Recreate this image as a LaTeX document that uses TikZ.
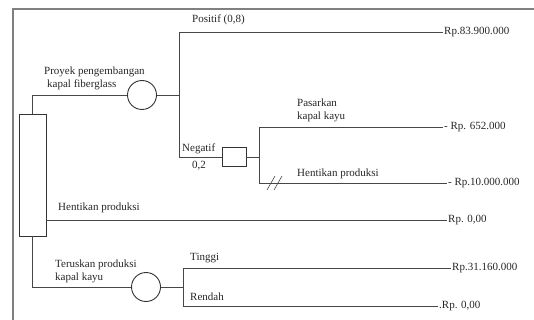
\documentclass[tikz,border=0pt]{standalone}
\usepackage{fontspec}
\setmainfont{Liberation Serif}
\usetikzlibrary{calc}
\tikzset{
	tree/.style={line width=0.9pt, color=black!72},
	chance/.style={draw, circle, minimum size=29pt, inner sep=0pt, line width=0.9pt, color=black!80},
	decision/.style={draw, rectangle, inner sep=0pt, line width=0.9pt, color=black!80},
	payoff/.style={anchor=west, inner sep=1pt, text=black!85, font=\fontsize{11}{13}\selectfont},
	lbl/.style={anchor=west, inner sep=0pt, align=left, text=black!85, font=\fontsize{11}{13}\selectfont}
}

\begin{document}
\begin{tikzpicture}[x=1pt, y=-1pt]
			%%%%% START %%%%%
			\useasboundingbox (0, 0) rectangle (534, 320);
			
			\draw[line width=1.2pt, color=black!50] (534, 9) -- (13, 9) -- (13, 320);
			
			\node[decision, minimum width=27pt, minimum height=122pt] (root) at (32.5, 175) {};
			
			\node[chance] (proyek) at (142, 95) {};
			\node[chance] (teruskan) at (146, 287) {};
			\node[decision, minimum width=24pt, minimum height=19pt] (pilih) at (234, 157) {};
			
			\coordinate (pasar) at (179, 95);
			\coordinate (jual) at (259, 157);
			\coordinate (harga) at (183, 287);
			
			\node[payoff] (positif) at (443, 32) {Rp.83.900.000};
			\node[payoff] (pasarkan) at (443, 127) {- Rp. 652.000};
			\node[payoff] (henti1) at (447, 183) {- Rp.10.000.000};
			\node[payoff] (henti2) at (447, 220) {Rp. 0,00};
			\node[payoff] (tinggi) at (451, 268) {Rp.31.160.000};
			\node[payoff] (rendah) at (438, 306) {.Rp. 0,00};
			
			\draw[tree] (root.north) |- (proyek.west);
			\draw[tree] (proyek.east) -- (pasar);
			\draw[tree] (pasar) |- (positif.west);
			\draw[tree] (pasar) |- (pilih.west);
			\draw[tree] (pilih.east) -- (jual);
			\draw[tree] (jual) |- (pasarkan.west);
			\draw[tree] (jual) |- (henti1.west);
			\draw[tree] (root.east |- henti2.west) -- (henti2.west);
			\draw[tree] (root.south) |- (teruskan.west);
			\draw[tree] (teruskan.east) -- (harga);
			\draw[tree] (harga) |- (tinggi.west);
			\draw[tree] (harga) |- (rendah.west);
			
			% cabang yang dipangkas
			\draw[tree, line width=0.6pt] ($(jual |- henti1.west)+(8, 7)$) -- ++(8, -14);
			\draw[tree, line width=0.6pt] ($(jual |- henti1.west)+(15, 7)$) -- ++(8, -14);
			
			\node[lbl] at (192, 20) {Positif (0,8)};
			\node[lbl] at (44, 78) {Proyek pengembangan\\\hspace*{3pt}kapal fiberglass};
			\node[lbl] at (182, 149) {Negatif};
			\node[lbl] at (192, 166) {0,2};
			\node[lbl] at (297, 110) {Pasarkan\\kapal kayu};
			\node[lbl] at (297, 174) {Hentikan produksi};
			\node[lbl] at (58, 208) {Hentikan produksi};
			\node[lbl] at (55, 271) {Teruskan produksi\\kapal kayu};
			\node[lbl] at (190, 258) {Tinggi};
			\node[lbl] at (190, 297) {Rendah};
			
			%%%%% END %%%%%
\end{tikzpicture}
\end{document}
